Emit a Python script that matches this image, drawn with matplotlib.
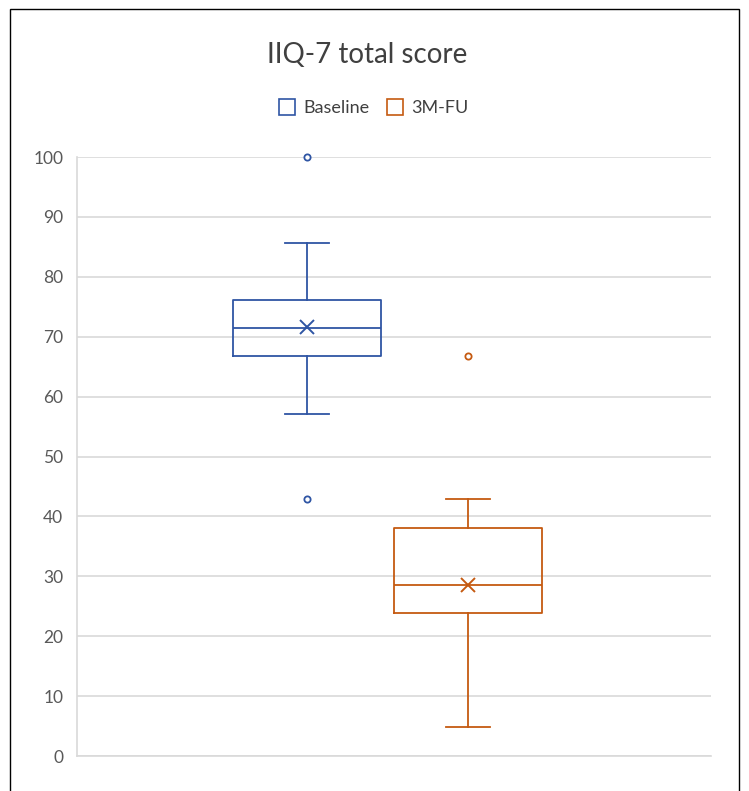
import matplotlib
matplotlib.use("Agg")
import matplotlib.pyplot as plt
from matplotlib.lines import Line2D
from matplotlib.patches import Rectangle

plt.rcParams["font.family"] = ["Lato", "DejaVu Sans"]

# ── data ──────────────────────────────────────────────────────────
groups = ["Baseline", "3M-FU"]
colors = ["#2F55A4", "#C55A11"]
q1 = [66.7, 23.8]
medians = [71.4, 28.6]
q3 = [76.2, 38.1]
whislo = [57.1, 4.8]
whishi = [85.7, 42.9]
means = [71.7, 28.5]
fliers = [[100.0, 42.9], [66.7]]
yticks = list(range(0, 101, 10))

fig = plt.figure(figsize=(7.49, 7.91), dpi=100)
fig.patch.set_facecolor("white")
ax = fig.add_axes([0.103, 0.0442, 0.846, 0.7573])

stats = []
for i, g in enumerate(groups):
    stats.append(dict(label=g, q1=q1[i], med=medians[i], q3=q3[i],
                      whislo=whislo[i], whishi=whishi[i],
                      mean=means[i], fliers=fliers[i]))

for i, s in enumerate(stats):
    c = colors[i]
    ax.bxp([s], positions=[i + 1], widths=0.92, capwidths=0.27,
           showmeans=True, patch_artist=False,
           boxprops=dict(color=c, lw=1.3),
           whiskerprops=dict(color=c, lw=1.3),
           capprops=dict(color=c, lw=1.3),
           medianprops=dict(color=c, lw=1.3),
           meanprops=dict(marker="x", markeredgecolor=c, markersize=10,
                          markeredgewidth=1.4),
           flierprops=dict(marker="o", markerfacecolor="white",
                           markeredgecolor=c, markersize=4.5,
                           markeredgewidth=1.3),
           zorder=3)

for art in ax.lines:
    art.set_clip_on(False)

ax.set_xlim(-0.429, 3.508)
ax.set_ylim(0, 100)
ax.set_yticks(yticks)
ax.set_xticks([])
ax.yaxis.grid(True, color="#D9D9D9", lw=1.2, zorder=0)
ax.set_axisbelow(True)
for name, sp in ax.spines.items():
    if name in ("left", "bottom"):
        sp.set_color("#D9D9D9")
        sp.set_linewidth(1.2)
    else:
        sp.set_visible(False)
ax.tick_params(axis="y", length=0, pad=10, labelsize=12.5, labelcolor="#595959")

fig.text(0.490, 0.930, "IIQ-7 total score", ha="center", va="center",
         fontsize=20, color="#404040")

handles = [Line2D([], [], ls="none", marker="s", markersize=12,
                  markerfacecolor="white", markeredgecolor=c,
                  markeredgewidth=1.2) for c in colors]
fig.legend(handles, groups, loc="center", bbox_to_anchor=(0.498, 0.8635),
           ncol=2, frameon=False, fontsize=13, handletextpad=0.4,
           columnspacing=0.9, handlelength=1.0, labelcolor="#404040")

fig.add_artist(Rectangle((0.013, -0.01), 0.973, 0.998,
                         transform=fig.transFigure, fill=False,
                         edgecolor="black", lw=1.0))

fig.savefig("out.png", dpi=100, facecolor="white")
